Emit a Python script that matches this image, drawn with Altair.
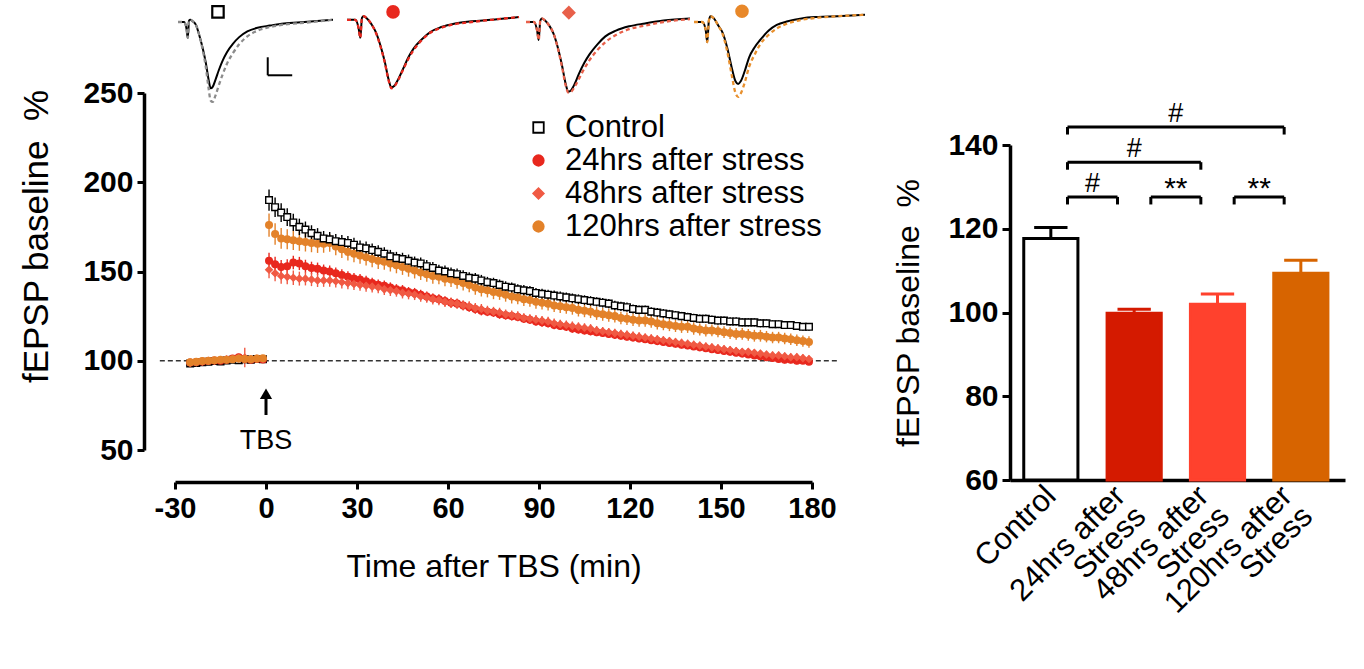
import altair as alt
import pandas as pd

FONT = "Liberation Sans"

# ---------------- time course data ----------------
SERIES = ["Control", "24hrs after stress", "48hrs after stress", "120hrs after stress"]
SERIES_SHAPE = ["square", "circle", "diamond", "circle"]
SERIES_FILL = ["white", "#E8281E", "#F05A44", "#E3822A"]
SERIES_STROKE = ["black", "#E8281E", "#F05A44", "#E3822A"]

BASE_T = [-25, -23, -21, -19, -17, -15, -13, -11, -9, -7, -5, -3, -1]
POST_T = list(range(1, 180, 2))

CTRL_BASE = [98.5, 98.8, 99.2, 99.5, 99.8, 99.6, 100.2, 100.5, 100.3, 100.8, 100.6, 101.0, 100.8]
R24_BASE = [99.0, 99.3, 99.6, 99.8, 100.2, 100.0, 100.5, 101.2, 102.0, 101.0, 100.6, 101.0, 100.7]
R48_BASE = [98.8, 99.0, 99.5, 99.9, 100.0, 100.4, 100.8, 101.0, 101.5, 101.8, 100.8, 101.2, 101.0]
O_BASE = [99.2, 99.5, 99.8, 100.0, 100.3, 100.5, 100.6, 100.9, 101.2, 101.0, 100.9, 101.2, 101.4]

CTRL_BASE_SEM = [1.2, 1.2, 1.1, 1.2, 1.1, 1.2, 1.2, 1.1, 1.2, 1.2, 1.1, 1.2, 1.2]
R24_BASE_SEM = [1.3, 1.2, 1.3, 1.2, 1.3, 1.2, 1.3, 1.4, 1.6, 1.3, 1.2, 1.3, 1.2]
R48_BASE_SEM = [1.3, 1.2, 1.3, 1.3, 1.2, 1.3, 1.4, 1.5, 1.8, 5.5, 1.4, 1.3, 1.3]
O_BASE_SEM = [1.4, 1.3, 1.4, 1.3, 1.4, 1.3, 1.4, 1.3, 1.4, 1.3, 1.4, 1.3, 1.4]

CTRL_POST = [190.0, 186.0, 183.0, 180.5, 177.5, 175.0, 173.5, 171.5, 170.0, 168.5,
             168.0, 167.0, 166.5, 166.0, 165.0, 163.5, 163.0, 162.0, 161.0, 160.0,
             158.5, 157.5, 157.0, 156.0, 155.0, 154.5, 153.0, 152.0, 150.5, 150.0,
             149.0, 148.5, 147.5, 146.5, 146.0, 145.0, 144.0, 143.5, 142.5, 141.5,
             141.0, 140.0, 139.5, 139.0, 138.0, 137.5, 137.0, 136.5, 136.0, 135.5,
             135.0, 134.5, 134.0, 133.5, 133.0, 132.5, 132.0, 131.0, 130.5, 130.0,
             129.0, 128.5, 128.5, 127.5, 127.0, 126.5, 126.0, 125.5, 125.0, 124.5,
             124.0, 123.5, 123.5, 123.0, 122.5, 122.5, 122.0, 122.0, 121.5, 121.5,
             121.5, 121.0, 121.0, 120.5, 120.5, 120.0, 120.0, 119.5, 119.0, 119.0]
R24_POST = [156.0, 154.0, 152.5, 153.0, 155.0, 154.5, 153.0, 152.0, 151.5, 150.5,
            150.0, 149.0, 148.0, 147.0, 146.0, 145.5, 144.5, 143.5, 142.5, 142.0,
            141.0, 140.0, 139.5, 138.5, 138.0, 137.0, 136.0, 135.0, 134.5, 133.5,
            132.5, 132.0, 131.0, 130.0, 129.0, 128.0, 127.5, 127.0, 126.0, 125.5,
            125.0, 124.5, 123.5, 123.0, 122.0, 121.5, 121.0, 120.0, 119.5, 119.0,
            118.0, 117.5, 117.0, 116.5, 116.0, 115.5, 115.0, 114.5, 114.0, 113.5,
            113.0, 112.5, 112.0, 111.5, 111.0, 110.5, 110.0, 109.5, 109.0, 108.5,
            108.0, 107.5, 107.0, 106.5, 106.0, 105.5, 105.0, 104.5, 104.0, 103.5,
            103.0, 102.5, 102.0, 101.5, 101.0, 100.5, 100.5, 100.0, 100.0, 99.5]
R48_POST = [151.0, 149.0, 147.5, 147.0, 146.5, 146.0, 146.0, 145.5, 145.0, 145.0,
            145.0, 144.5, 144.0, 143.5, 143.0, 142.5, 142.0, 141.5, 141.0, 140.0,
            139.5, 139.0, 138.0, 137.5, 137.0, 136.0, 135.5, 134.5, 134.0, 133.0,
            132.5, 132.0, 131.0, 130.5, 129.5, 129.0, 128.0, 127.5, 127.0, 126.0,
            125.5, 125.0, 124.0, 123.5, 123.0, 122.5, 122.0, 121.0, 120.5, 120.0,
            119.5, 119.0, 118.5, 118.0, 117.0, 116.5, 116.0, 115.5, 115.0, 114.5,
            114.0, 113.5, 113.0, 112.5, 112.0, 111.5, 111.0, 110.5, 110.0, 109.5,
            109.0, 108.5, 108.0, 107.5, 107.0, 106.5, 106.0, 105.5, 105.0, 105.0,
            104.5, 104.0, 103.5, 103.0, 103.0, 102.5, 102.0, 102.0, 101.5, 101.0]
O_POST = [176.0, 171.0, 168.5, 168.0, 167.5, 167.0, 166.5, 166.0, 165.5, 165.5,
          166.0, 164.0, 162.5, 161.0, 160.0, 159.0, 158.0, 157.0, 156.0, 155.5,
          154.5, 153.5, 152.5, 151.5, 150.5, 149.5, 148.5, 147.5, 147.0, 146.0,
          145.5, 144.5, 143.5, 142.5, 141.0, 140.0, 139.5, 138.5, 138.0, 137.0,
          136.0, 135.5, 134.5, 134.0, 133.0, 132.5, 132.0, 131.0, 130.5, 130.0,
          129.5, 128.5, 128.0, 127.5, 126.5, 126.0, 125.5, 125.0, 124.0, 123.5,
          123.0, 122.5, 122.5, 122.0, 121.0, 120.5, 120.0, 119.5, 119.0, 119.0,
          118.0, 117.5, 117.0, 117.0, 116.5, 116.0, 115.5, 115.0, 115.0, 114.5,
          114.0, 114.0, 113.5, 113.0, 113.0, 112.5, 112.0, 111.5, 111.0, 110.5]

CTRL_SEM = [6.0, 5.5, 5.2, 5.0, 4.8, 4.6, 4.5, 4.4, 4.3, 4.2,
            4.1, 4.0, 4.0, 3.9, 3.9, 3.8, 3.8, 3.7, 3.7, 3.6,
            3.6, 3.5, 3.5, 3.5, 3.4, 3.4, 3.4, 3.3, 3.3, 3.3,
            3.2, 3.2, 3.2, 3.1, 3.1, 3.1, 3.0, 3.0, 3.0, 3.0,
            2.9, 2.9, 2.9, 2.9, 2.8, 2.8, 2.8, 2.8, 2.8, 2.7,
            2.7, 2.7, 2.7, 2.7, 2.6, 2.6, 2.6, 2.6, 2.6, 2.6,
            2.5, 2.5, 2.5, 2.5, 2.5, 2.5, 2.5, 2.4, 2.4, 2.4,
            2.4, 2.4, 2.4, 2.4, 2.3, 2.3, 2.3, 2.3, 2.3, 2.3,
            2.3, 2.3, 2.2, 2.2, 2.2, 2.2, 2.2, 2.2, 2.2, 2.2]
R24_SEM = [4.5, 4.2, 4.0, 3.9, 3.8, 3.7, 3.6, 3.5, 3.5, 3.4,
           3.4, 3.3, 3.3, 3.2, 3.2, 3.1, 3.1, 3.0, 3.0, 3.0,
           2.9, 2.9, 2.9, 2.8, 2.8, 2.8, 2.8, 2.7, 2.7, 2.7,
           2.7, 2.6, 2.6, 2.6, 2.6, 2.6, 2.5, 2.5, 2.5, 2.5,
           2.5, 2.4, 2.4, 2.4, 2.4, 2.4, 2.4, 2.3, 2.3, 2.3,
           2.3, 2.3, 2.3, 2.3, 2.2, 2.2, 2.2, 2.2, 2.2, 2.2,
           2.2, 2.1, 2.1, 2.1, 2.1, 2.1, 2.1, 2.1, 2.1, 2.0,
           2.0, 2.0, 2.0, 2.0, 2.0, 2.0, 2.0, 2.0, 1.9, 1.9,
           1.9, 1.9, 1.9, 1.9, 1.9, 1.9, 1.9, 1.9, 1.8, 1.8]
R48_SEM = [4.8, 4.5, 4.3, 4.1, 4.0, 3.9, 3.8, 3.7, 3.7, 3.6,
           3.6, 3.5, 3.5, 3.4, 3.4, 3.3, 3.3, 3.3, 3.2, 3.2,
           3.2, 3.1, 3.1, 3.1, 3.0, 3.0, 3.0, 3.0, 2.9, 2.9,
           2.9, 2.9, 2.8, 2.8, 2.8, 2.8, 2.8, 2.7, 2.7, 2.7,
           2.7, 2.7, 2.6, 2.6, 2.6, 2.6, 2.6, 2.6, 2.5, 2.5,
           2.5, 2.5, 2.5, 2.5, 2.5, 2.4, 2.4, 2.4, 2.4, 2.4,
           2.4, 2.4, 2.3, 2.3, 2.3, 2.3, 2.3, 2.3, 2.3, 2.3,
           2.2, 2.2, 2.2, 2.2, 2.2, 2.2, 2.2, 2.2, 2.2, 2.1,
           2.1, 2.1, 2.1, 2.1, 2.1, 2.1, 2.1, 2.1, 2.1, 2.0]
O_SEM = [6.5, 6.0, 5.8, 5.6, 5.5, 5.4, 5.3, 5.2, 5.1, 5.0,
         5.0, 4.9, 4.9, 4.8, 4.8, 4.7, 4.7, 4.6, 4.6, 4.5,
         4.5, 4.5, 4.4, 4.4, 4.4, 4.3, 4.3, 4.3, 4.2, 4.2,
         4.2, 4.1, 4.1, 4.1, 4.0, 4.0, 4.0, 4.0, 3.9, 3.9,
         3.9, 3.9, 3.8, 3.8, 3.8, 3.8, 3.8, 3.7, 3.7, 3.7,
         3.7, 3.7, 3.6, 3.6, 3.6, 3.6, 3.6, 3.6, 3.5, 3.5,
         3.5, 3.5, 3.5, 3.5, 3.5, 3.4, 3.4, 3.4, 3.4, 3.4,
         3.4, 3.4, 3.4, 3.3, 3.3, 3.3, 3.3, 3.3, 3.3, 3.3,
         3.3, 3.3, 3.2, 3.2, 3.2, 3.2, 3.2, 3.2, 3.2, 3.2]

# drawing order: baseline -> orange on top, post -> control on top
BASE_Z = [1, 2, 3, 4]
POST_Z = [4, 2, 3, 1]

X_TICKS = [-30, 0, 30, 60, 90, 120, 150, 180]
Y_TICKS = [50, 100, 150, 200, 250]
REF_LINE = {"x0": -35, "x1": 189, "y": 100}

# ---------------- bar data ----------------
BAR_NAMES = ["Control", "24hrs after Stress", "48hrs after Stress", "120hrs after Stress"]
BAR_MEAN = [117.7, 99.8, 102.0, 109.4]
BAR_SEM = [2.6, 1.0, 2.4, 3.1]
BAR_FILL = ["white", "#D41A00", "#FF412D", "#D76400"]
BAR_EDGE = ["black", "#D41A00", "#FF412D", "#D76400"]
BAR_TICKS = [60, 80, 100, 120, 140]
BRACKET_PAIRS = [(0, 3), (0, 2), (0, 1), (1, 2), (2, 3)]
BRACKET_LEVEL = [144.3, 135.9, 127.6, 127.6, 127.6]
BRACKET_TEXT = ["#", "#", "#", "**", "**"]

# ---------------- example traces (mV vs ms) ----------------
TR_MS = [0, 1.5, 2.1, 2.4, 2.7, 3.0, 3.6, 4.4, 5.2, 6.0, 6.8, 7.5, 8.0, 8.5, 9.2,
         10.0, 11.0, 12.0, 13.5, 15.0, 17.0, 19.5, 22.5, 26.0, 31.0]
TR1_MS = [0, 1.5, 2.1, 2.4, 2.7, 3.0, 3.6, 4.4, 5.2, 6.0, 6.8, 7.5, 8.0, 8.5, 9.2,
          10.0, 11.0, 12.0, 13.5, 15.0, 17.0, 19.5, 22.5, 26.0, 31.0, 38.0]
TR1_PRE = [0, 0, -0.10, -0.22, 0.02, 0.03, 0.01, -0.04, -0.18, -0.35, -0.56, -0.80, -0.92,
           -0.90, -0.80, -0.67, -0.53, -0.42, -0.30, -0.21, -0.13, -0.08, -0.05, -0.02, 0.0, 0.03]
TR1_POST = [0, 0, -0.10, -0.22, 0.02, 0.03, 0.01, -0.04, -0.18, -0.37, -0.62, -0.92, -1.09,
            -1.11, -1.02, -0.88, -0.72, -0.58, -0.43, -0.31, -0.20, -0.12, -0.07, -0.035, -0.01, 0.03]
TR2_PRE = [0.03, 0.03, -0.09, -0.22, 0.06, 0.08, 0.05, -0.03, -0.14, -0.32, -0.55, -0.80, -0.91,
           -0.89, -0.80, -0.67, -0.50, -0.37, -0.24, -0.14, -0.07, -0.02, 0.01, 0.03, 0.07]
TR2_POST = [0.03, 0.03, -0.09, -0.22, 0.06, 0.08, 0.05, -0.03, -0.15, -0.33, -0.56, -0.81, -0.92,
            -0.90, -0.81, -0.68, -0.52, -0.39, -0.25, -0.15, -0.08, -0.03, 0.0, 0.03, 0.07]
TR3_PRE = [0, 0, -0.12, -0.25, 0.02, 0.05, 0.02, -0.05, -0.16, -0.35, -0.60, -0.86, -0.97,
           -0.95, -0.86, -0.72, -0.57, -0.45, -0.31, -0.20, -0.12, -0.06, -0.02, 0.02, 0.05]
TR3_POST = [0, 0, -0.12, -0.25, 0.02, 0.05, 0.02, -0.05, -0.16, -0.36, -0.62, -0.88, -0.98,
            -0.97, -0.90, -0.79, -0.65, -0.53, -0.39, -0.28, -0.18, -0.10, -0.05, 0.0, 0.04]
TR4_PRE = [0, 0, -0.10, -0.28, 0.02, 0.08, 0.05, -0.05, -0.15, -0.35, -0.62, -0.82, -0.86,
           -0.82, -0.68, -0.49, -0.35, -0.25, -0.12, -0.04, 0.01, 0.05, 0.07, 0.08, 0.10]
TR4_POST = [0, 0, -0.10, -0.28, 0.02, 0.08, 0.05, -0.05, -0.17, -0.40, -0.72, -0.98, -1.04,
            -0.99, -0.84, -0.62, -0.45, -0.31, -0.18, -0.09, -0.02, 0.03, 0.06, 0.08, 0.10]
TR_DASH_COLOR = ["#8C8C8C", "#E8281E", "#E8604A", "#E8902E"]
TR_MARK_SHAPE = ["square", "circle", "diamond", "circle"]
TR_MARK_FILL = ["white", "#E8281E", "#E8604A", "#E8882A"]
TR_MARK_STROKE = ["black", "#E8281E", "#E8604A", "#E8882A"]
TR_MARK_MS = [9.8, 8.3, 8.1, 8.7]
TR_MARK_MV = [0.14, 0.14, 0.13, 0.15]
SCALEBAR = {"ms0": 22.0, "ms1": 28.0, "mv0": -0.74, "mv1": -0.49}

# ---------------- layout (pixels, relative to main plot origin) ----------------
W, H = 637, 357
PANEL_RANGE = [[3, 158], [172, 344], [351, 515], [519, 690]]
PANEL_DOMAIN = [[0, 38], [0, 31], [0, 31], [0, 31]]
TRACE_Y_RANGE = [15.4, -85.4]
BAR_X_RANGE = [835, 1170]
BAR_Y_RANGE = [387, 52]

# ---------------- build tables ----------------
rows = []
groups = [
    (CTRL_BASE, CTRL_BASE_SEM, CTRL_POST, CTRL_SEM),
    (R24_BASE, R24_BASE_SEM, R24_POST, R24_SEM),
    (R48_BASE, R48_BASE_SEM, R48_POST, R48_SEM),
    (O_BASE, O_BASE_SEM, O_POST, O_SEM),
]
for k, (bv, bs, pv, ps) in enumerate(groups):
    for t, v, e in zip(BASE_T, bv, bs):
        rows.append({"series": SERIES[k], "t": t, "v": v, "lo": v - e, "hi": v + e, "z": BASE_Z[k]})
    for t, v, e in zip(POST_T, pv, ps):
        rows.append({"series": SERIES[k], "t": t, "v": v, "lo": v - e, "hi": v + e, "z": POST_Z[k]})
tc = pd.DataFrame(rows)

x_main = alt.Scale(domain=[-30, 180], nice=False, zero=False)
y_main = alt.Scale(domain=[50, 250], nice=False, zero=False)
x_axis = alt.Axis(values=X_TICKS, title="Time after TBS (min)", offset=32, grid=False,
                  labelExpr="toString(datum.value)",
                  labelFont=FONT, labelFontSize=29, labelFontWeight="bold", labelColor="black",
                  labelPadding=5, tickSize=7, tickWidth=3, tickColor="black",
                  domainWidth=3.5, domainColor="black", labelFlush=False,
                  titleFont=FONT, titleFontSize=32, titleFontWeight="normal", titleColor="black",
                  titlePadding=28)
y_axis = alt.Axis(values=Y_TICKS, title="fEPSP baseline\u00a0 %", offset=31, grid=False,
                  labelFont=FONT, labelFontSize=30, labelFontWeight="bold", labelColor="black",
                  labelPadding=4, tickSize=7, tickWidth=3, tickColor="black",
                  domainWidth=3.5, domainColor="black", labelFlush=False,
                  titleFont=FONT, titleFontSize=35, titleFontWeight="normal", titleColor="black",
                  titlePadding=28, titleY=143)

legend = alt.Legend(orient="none", legendX=348, legendY=19, title=None, padding=0,
                    labelFont=FONT, labelFontSize=31, labelColor="black", labelOffset=11,
                    labelLimit=500, symbolSize=110, symbolStrokeWidth=1.8, rowPadding=1)

X = lambda f: alt.X(f, scale=x_main, axis=x_axis)
Y = lambda f: alt.Y(f, scale=y_main, axis=y_axis)

ref = alt.Chart(pd.DataFrame([REF_LINE])).mark_rule(
    strokeDash=[5, 3], color="#333333", strokeWidth=1.3
).encode(x=X("x0:Q"), x2="x1:Q", y=Y("y:Q"))

err = alt.Chart(tc).mark_rule(strokeWidth=1.4).encode(
    x=X("t:Q"), y=Y("lo:Q"), y2="hi:Q",
    stroke=alt.Stroke("series:N", scale=alt.Scale(domain=SERIES, range=SERIES_STROKE), legend=legend),
    order=alt.Order("z:Q"),
)

pts = alt.Chart(tc).mark_point(filled=True, size=44, strokeWidth=1.4, opacity=1).encode(
    x=X("t:Q"), y=Y("v:Q"),
    shape=alt.Shape("series:N", scale=alt.Scale(domain=SERIES, range=SERIES_SHAPE), legend=legend),
    fill=alt.Fill("series:N", scale=alt.Scale(domain=SERIES, range=SERIES_FILL), legend=legend),
    stroke=alt.Stroke("series:N", scale=alt.Scale(domain=SERIES, range=SERIES_STROKE), legend=legend),
    order=alt.Order("z:Q"),
)

TBS = pd.DataFrame([{"t": 0, "y0": 69.6, "y1": 79.0, "head": 81.5, "ty": 50.3, "label": "TBS"}])
shaft = alt.Chart(TBS).mark_rule(color="black", strokeWidth=3).encode(x=X("t:Q"), y=Y("y0:Q"), y2="y1:Q")
head = alt.Chart(TBS).mark_point(shape="triangle-up", filled=True, color="black", size=150, opacity=1).encode(
    x=X("t:Q"), y=Y("head:Q"))
tbs_text = alt.Chart(TBS).mark_text(font=FONT, fontSize=27, color="black", baseline="alphabetic").encode(
    x=X("t:Q"), y=Y("ty:Q"), text="label:N")

main = alt.layer(ref, err, pts, shaft, head, tbs_text)

# ---------------- bar chart ----------------
bars_df = pd.DataFrame({"i": [0, 1, 2, 3], "name": BAR_NAMES, "mean": BAR_MEAN, "sem": BAR_SEM})
x_bar = alt.Scale(domain=[-0.49, 3.53], range=BAR_X_RANGE, nice=False, zero=False)
y_bar = alt.Scale(domain=[60, 140], range=BAR_Y_RANGE, nice=False, zero=False)
label_expr = ("datum.value == 0 ? 'Control' : datum.value == 1 ? ['24hrs after', 'Stress'] : "
              "datum.value == 2 ? ['48hrs after', 'Stress'] : ['120hrs after', 'Stress']")
xb_axis = alt.Axis(values=[0, 1, 2, 3], orient="bottom", offset=30, title=None, grid=False, ticks=False,
                   labelExpr=label_expr, labelAngle=315, labelAlign="right", labelBaseline="middle",
                   labelOffset={"condition": {"test": "datum.value == 0", "value": 0}, "value": -14},
                   labelFont=FONT, labelFontSize=31, labelColor="black", labelPadding=11,
                   labelLineHeight=29, labelFlush=False, labelOverlap=False, labelBound=False,
                   domainWidth=3.5, domainColor="black")
yb_axis = alt.Axis(values=BAR_TICKS, orient="left", offset=-835, title="fEPSP baseline\u00a0 %", grid=False,
                   labelFont=FONT, labelFontSize=30, labelFontWeight="bold", labelColor="black",
                   labelPadding=4, tickSize=8, tickWidth=3, tickColor="black",
                   domainWidth=3.5, domainColor="black", labelFlush=False,
                   titleFont=FONT, titleFontSize=32, titleFontWeight="normal", titleColor="black",
                   titlePadding=22)
XB = lambda f: alt.X(f, scale=x_bar, axis=xb_axis)
YB = lambda f: alt.Y(f, scale=y_bar, axis=yb_axis)

bar_base = alt.Chart(bars_df).transform_calculate(
    x_lo="datum.i - 0.325", x_hi="datum.i + 0.325",
    c_lo="datum.i - 0.2", c_hi="datum.i + 0.2", top="datum.mean + datum.sem", floor="60"
)
rect = bar_base.mark_rect(strokeWidth=3).encode(
    x=XB("x_lo:Q"), x2="x_hi:Q", y=YB("mean:Q"), y2="floor:Q",
    fill=alt.Fill("name:N", scale=alt.Scale(domain=BAR_NAMES, range=BAR_FILL), legend=None),
    stroke=alt.Stroke("name:N", scale=alt.Scale(domain=BAR_NAMES, range=BAR_EDGE), legend=None),
)
stem = bar_base.mark_rule(strokeWidth=3).encode(
    x=XB("i:Q"), y=YB("mean:Q"), y2="top:Q",
    stroke=alt.Stroke("name:N", scale=alt.Scale(domain=BAR_NAMES, range=BAR_EDGE), legend=None),
)
cap = bar_base.mark_rule(strokeWidth=3).encode(
    x=XB("c_lo:Q"), x2="c_hi:Q", y=YB("top:Q"),
    stroke=alt.Stroke("name:N", scale=alt.Scale(domain=BAR_NAMES, range=BAR_EDGE), legend=None),
)

br_df = pd.DataFrame({
    "a": [p[0] for p in BRACKET_PAIRS], "b": [p[1] for p in BRACKET_PAIRS],
    "lvl": BRACKET_LEVEL, "txt": BRACKET_TEXT,
})
br_base = alt.Chart(br_df).transform_calculate(
    x1="datum.a + 0.2", x2="datum.b - 0.2", xm="(datum.a + datum.b) / 2", foot="datum.lvl - 1.8"
)
br_h = br_base.mark_rule(color="black", strokeWidth=3).encode(x=XB("x1:Q"), x2="x2:Q", y=YB("lvl:Q"))
br_l = br_base.mark_rule(color="black", strokeWidth=3).encode(x=XB("x1:Q"), y=YB("lvl:Q"), y2="foot:Q")
br_r = br_base.mark_rule(color="black", strokeWidth=3).encode(x=XB("x2:Q"), y=YB("lvl:Q"), y2="foot:Q")
hash_t = br_base.transform_filter("datum.txt == '#'").mark_text(
    font=FONT, fontSize=27, color="black", baseline="alphabetic", dy=-5
).encode(x=XB("xm:Q"), y=YB("lvl:Q"), text="txt:N")
star_t = br_base.transform_filter("datum.txt != '#'").mark_text(
    font=FONT, fontSize=30, color="black", baseline="alphabetic", dy=1
).encode(x=XB("xm:Q"), y=YB("lvl:Q"), text="txt:N")

bars = alt.layer(rect, stem, cap, br_h, br_l, br_r, hash_t, star_t)

# ---------------- traces ----------------
trace_y = alt.Scale(domain=[-1.2, 0.2], range=TRACE_Y_RANGE, nice=False, zero=False)
panel_data = [(TR1_MS, TR1_PRE, TR1_POST), (TR_MS, TR2_PRE, TR2_POST),
              (TR_MS, TR3_PRE, TR3_POST), (TR_MS, TR4_PRE, TR4_POST)]
panels = []
for k, (ms, pre, post) in enumerate(panel_data):
    xs = alt.Scale(domain=PANEL_DOMAIN[k], range=PANEL_RANGE[k], nice=False, zero=False)
    df = pd.DataFrame({"ms": ms, "pre": pre, "post": post})
    solid = alt.Chart(df).mark_line(color="black", strokeWidth=2, interpolate="monotone").encode(
        x=alt.X("ms:Q", scale=xs, axis=None), y=alt.Y("pre:Q", scale=trace_y, axis=None))
    dashed = alt.Chart(df).mark_line(color=TR_DASH_COLOR[k], strokeWidth=2.3, strokeDash=[4, 3],
                                     interpolate="monotone").encode(
        x=alt.X("ms:Q", scale=xs, axis=None), y=alt.Y("post:Q", scale=trace_y, axis=None))
    mk = alt.Chart(pd.DataFrame({"ms": [TR_MARK_MS[k]], "mv": [TR_MARK_MV[k]]})).mark_point(
        shape=TR_MARK_SHAPE[k], filled=True, fill=TR_MARK_FILL[k], stroke=TR_MARK_STROKE[k],
        strokeWidth=2.2, size=130 if k != 2 else 120, opacity=1
    ).encode(x=alt.X("ms:Q", scale=xs, axis=None), y=alt.Y("mv:Q", scale=trace_y, axis=None))
    layers = [solid, dashed, mk]
    if k == 0:
        sb = pd.DataFrame([SCALEBAR])
        sbh = alt.Chart(sb).mark_rule(color="black", strokeWidth=2).encode(
            x=alt.X("ms0:Q", scale=xs, axis=None), x2="ms1:Q", y=alt.Y("mv0:Q", scale=trace_y, axis=None))
        sbv = alt.Chart(sb).mark_rule(color="black", strokeWidth=2).encode(
            x=alt.X("ms0:Q", scale=xs, axis=None), y=alt.Y("mv0:Q", scale=trace_y, axis=None), y2="mv1:Q")
        layers += [sbh, sbv]
    panels.append(alt.layer(*layers))

chart = alt.layer(main, bars, *panels).resolve_scale(
    x="independent", y="independent", fill="independent", stroke="independent", shape="independent"
).properties(
    width=W, height=H, background="white",
    autosize=alt.AutoSizeParams(type="none"),
    padding={"left": 175, "top": 93, "right": 1364 - 175 - W, "bottom": 669 - 93 - H},
).configure_view(stroke=None)

chart.save("out.html", embed_options={"renderer": "svg", "actions": False})
